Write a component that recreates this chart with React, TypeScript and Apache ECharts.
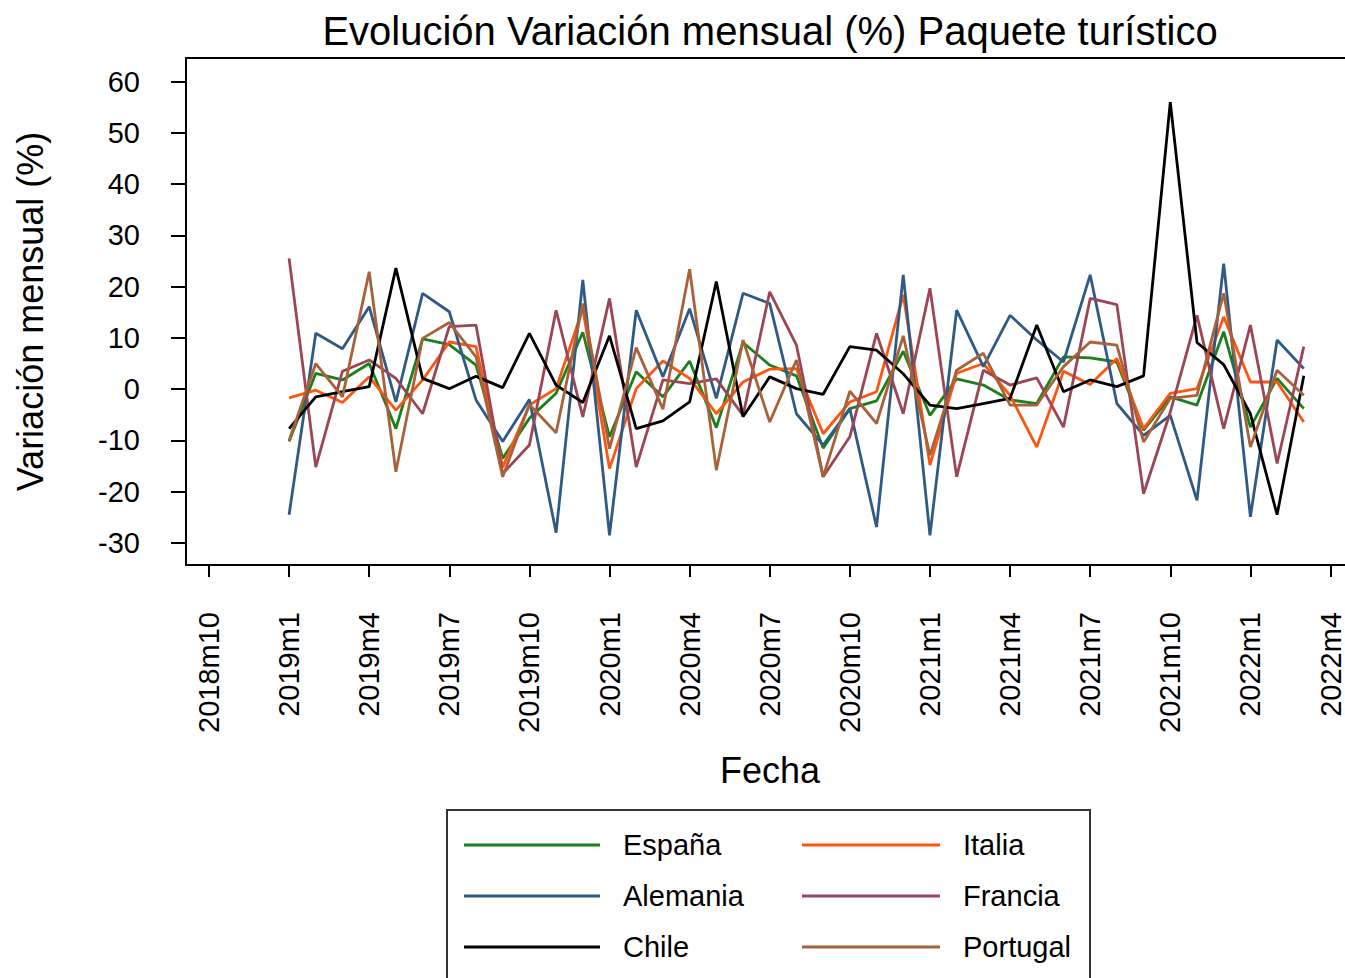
import { useEffect, useRef } from "react";
import * as echarts from "echarts";

const months = [
  "2019m1", "2019m2", "2019m3", "2019m4", "2019m5", "2019m6", "2019m7", "2019m8", "2019m9", "2019m10", "2019m11", "2019m12",
  "2020m1", "2020m2", "2020m3", "2020m4", "2020m5", "2020m6", "2020m7", "2020m8", "2020m9", "2020m10", "2020m11", "2020m12",
  "2021m1", "2021m2", "2021m3", "2021m4", "2021m5", "2021m6", "2021m7", "2021m8", "2021m9", "2021m10", "2021m11", "2021m12",
  "2022m1", "2022m2", "2022m3",
];

const tickLabels = [
  "2018m10", "2019m1", "2019m4", "2019m7", "2019m10", "2020m1", "2020m4", "2020m7",
  "2020m10", "2021m1", "2021m4", "2021m7", "2021m10", "2022m1", "2022m4",
];

const yTicks = [-30, -20, -10, 0, 10, 20, 30, 40, 50, 60];

const espana = [-10.2, 3.1, 1.8, 5.0, -7.7, 9.8, 8.7, 4.7, -13.5, -5.7, -0.8, 11.1, -9.3, 3.4, -1.5, 5.5, -7.5, 9.1, 4.7, 2.6, -11.5, -3.8, -2.3, 7.4, -5.1, 2.0, 0.8, -2.1, -2.8, 6.3, 6.1, 5.3, -8.0, -1.5, -3.1, 11.2, -7.4, 2.1, -3.8];
const italia = [-1.7, -0.2, -2.6, 2.4, -4.1, 1.8, 9.2, 8.3, -15.2, -3.1, 0.1, 15.7, -15.5, 0.1, 5.5, 2.1, -4.8, 1.4, 3.9, 4.0, -8.7, -2.5, -0.5, 18.4, -14.8, 3.1, 5.0, -1.2, -11.3, 3.5, 0.9, 6.0, -7.7, -0.8, 0.1, 14.1, 1.4, 1.4, -6.4];
const alemania = [-24.5, 10.9, 7.9, 16.1, -2.5, 18.7, 15.1, -2.1, -10.2, -2.0, -28.0, 21.3, -28.5, 15.4, 2.4, 15.7, -1.8, 18.7, 16.7, -4.8, -10.9, -3.8, -26.9, 22.3, -28.5, 15.4, 4.4, 14.4, 9.6, 5.3, 22.3, -2.8, -9.0, -5.1, -21.7, 24.5, -24.9, 9.6, 4.0];
const francia = [25.5, -15.2, 3.5, 5.7, 2.1, -4.8, 12.2, 12.5, -16.5, -10.9, 15.4, -5.4, 17.7, -15.2, 1.8, 1.1, 2.0, -5.1, 19.0, 8.6, -17.1, -9.3, 10.9, -4.8, 19.7, -17.1, 3.7, 0.8, 2.2, -7.4, 17.7, 16.5, -20.4, -4.5, 14.4, -7.7, 12.5, -14.5, 8.3];
const chile = [-7.7, -1.5, -0.5, 0.5, 23.6, 2.1, 0.1, 2.5, 0.3, 10.9, 0.8, -2.6, 10.4, -7.7, -6.2, -2.5, 21.0, -5.4, 2.4, 0.1, -1.0, 8.3, 7.6, 3.0, -3.1, -3.8, -2.8, -1.8, 12.5, -0.5, 1.8, 0.5, 2.6, 56.0, 9.1, 4.8, -4.8, -24.5, 2.6];
const portugal = [-10.0, 5.0, -1.5, 22.9, -16.1, 9.9, 13.0, 6.3, -17.1, -3.0, -8.5, 16.7, -11.6, 8.1, -3.9, 23.4, -15.8, 9.6, -6.4, 5.7, -17.1, -0.4, -6.7, 10.4, -12.9, 3.7, 7.0, -3.1, -3.1, 4.4, 9.2, 8.6, -10.3, -1.8, -1.2, 18.7, -11.3, 3.7, -1.2];

const seriesNames = ["España", "Italia", "Alemania", "Francia", "Chile", "Portugal"];
const seriesColors = ["#1B7F1B", "#FF5511", "#2F5A86", "#9C4555", "#000000", "#A8623A"];
const seriesValues = [espana, italia, alemania, francia, chile, portugal];

function monthIndex(label: string) {
  const [y, m] = label.split("m").map(Number);
  return y * 12 + m - (2018 * 12 + 10);
}

export default function App() {
  const ref = useRef<HTMLDivElement>(null);
  useEffect(() => {
    const chart = echarts.init(ref.current!, null, { renderer: "svg" });
    const font = "'Liberation Sans', Arial, sans-serif";
    const tickValues = tickLabels.map(monthIndex);
    const labelFor = (v: number) => {
      const k = tickValues.indexOf(Math.round(v));
      return k >= 0 ? tickLabels[k] : "";
    };
    const xMin = -0.86;
    const xMax = 42.88;
    const yMin = -34.3;
    const yMax = 64.6;
    const axisLineStyle = { color: "#000", width: 2 };
    const legendCommon = {
      orient: "vertical",
      top: 830,
      padding: 0,
      itemHeight: 3,
      itemGap: 21,
      icon: "rect",
      selectedMode: false,
      textStyle: { fontSize: 29, color: "#000", fontFamily: font, lineHeight: 30, padding: [0, 0, 0, 18] },
    };
    chart.setOption({
      animation: false,
      textStyle: { fontFamily: font },
      grid: { left: 186, top: 58, width: 1168, height: 507 },
      xAxis: [
        {
          type: "value",
          min: xMin,
          max: xMax,
          position: "bottom",
          axisLine: { show: true, onZero: false, lineStyle: axisLineStyle },
          axisTick: { show: true, length: 12, customValues: tickValues, lineStyle: axisLineStyle },
          axisLabel: {
            customValues: tickValues,
            rotate: 90,
            margin: 47,
            fontSize: 29,
            color: "#000",
            fontFamily: font,
            formatter: (v: number) => labelFor(v),
          },
          splitLine: { show: false },
          name: "Fecha",
          nameLocation: "middle",
          nameGap: 187,
          nameTextStyle: { fontSize: 36, color: "#000", fontFamily: font },
        },
        {
          type: "value",
          min: xMin,
          max: xMax,
          position: "top",
          axisLine: { show: true, onZero: false, lineStyle: axisLineStyle },
          axisTick: { show: false },
          axisLabel: { show: false },
          splitLine: { show: false },
        },
      ],
      yAxis: [
        {
          type: "value",
          min: yMin,
          max: yMax,
          position: "left",
          axisLine: { show: true, onZero: false, lineStyle: axisLineStyle },
          axisTick: { show: true, length: 15, customValues: yTicks, lineStyle: axisLineStyle },
          axisLabel: {
            customValues: yTicks,
            margin: 46,
            fontSize: 29,
            color: "#000",
            fontFamily: font,
          },
          splitLine: { show: false },
          name: "Variación mensual (%)",
          nameLocation: "middle",
          nameRotate: 90,
          nameGap: 138,
          nameTextStyle: { fontSize: 36, color: "#000", fontFamily: font },
        },
        {
          type: "value",
          min: yMin,
          max: yMax,
          position: "right",
          axisLine: { show: true, onZero: false, lineStyle: axisLineStyle },
          axisTick: { show: false },
          axisLabel: { show: false },
          splitLine: { show: false },
        },
      ],
      legend: [
        { ...legendCommon, data: ["España", "Alemania", "Chile"], left: 464, itemWidth: 136 },
        { ...legendCommon, data: ["Italia", "Francia", "Portugal"], left: 802, itemWidth: 138 },
      ],
      graphic: [
        {
          type: "text",
          x: 770,
          y: 31,
          style: {
            text: "Evolución Variación mensual (%) Paquete turístico",
            fontSize: 40,
            fontFamily: font,
            fill: "#000",
            textAlign: "center",
            textVerticalAlign: "middle",
          },
        },
        {
          type: "rect",
          shape: { x: 447, y: 810, width: 643, height: 200 },
          style: { fill: "none", stroke: "#333", lineWidth: 2 },
        },
      ],
      series: seriesNames.map((name, s) => ({
        name,
        type: "line",
        data: months.map((m, k) => [monthIndex(m), seriesValues[s][k]]),
        symbol: "none",
        showSymbol: false,
        lineStyle: { color: seriesColors[s], width: 2.8 },
        itemStyle: { color: seriesColors[s] },
        emphasis: { disabled: true },
        silent: true,
      })),
    });
    return () => chart.dispose();
  }, []);
  return (
    <div style={{ position: "fixed", left: 0, top: 0, width: 1345, height: 978, overflow: "hidden", background: "#fff" }}>
      <div ref={ref} style={{ width: 1370, height: 978 }} />
    </div>
  );
}
